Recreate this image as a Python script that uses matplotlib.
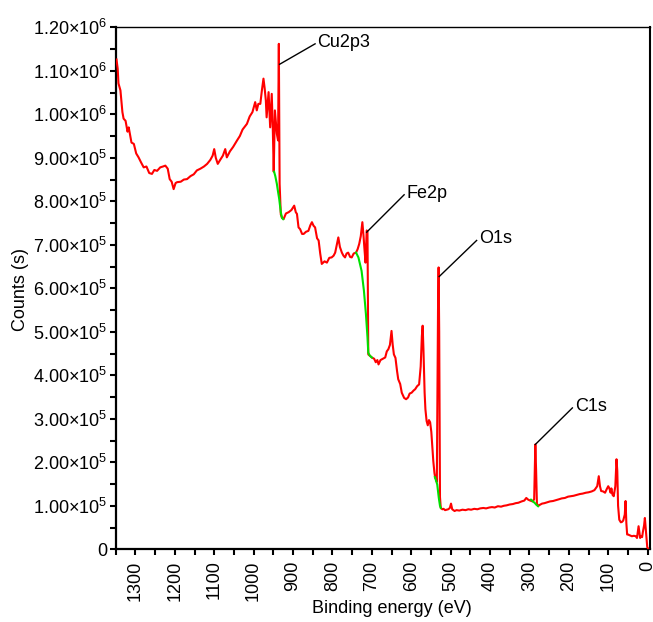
import numpy as np
import matplotlib
matplotlib.use("Agg")
import matplotlib.pyplot as plt
from matplotlib.ticker import MultipleLocator, FuncFormatter

plt.rcParams['font.family'] = ['Liberation Sans', 'DejaVu Sans']
plt.rcParams['mathtext.fontset'] = 'custom'
plt.rcParams['mathtext.rm'] = 'Liberation Sans'

# survey spectrum (binding energy in eV, counts in units of 1e5)
be = [1348, 1345, 1343, 1338, 1333, 1330, 1325, 1320, 1317, 1310, 1304, 1298, 1292, 1286,
      1279, 1272, 1265, 1258, 1252, 1245, 1237, 1230, 1224, 1218, 1213, 1208, 1203, 1198,
      1194, 1185, 1177, 1169, 1160, 1152, 1144, 1135, 1126, 1118, 1110, 1104, 1100, 1096,
      1091, 1085, 1078, 1072, 1068, 1060, 1052, 1042, 1035, 1028, 1017, 1010, 1003, 996,
      992, 988, 983, 979, 975, 972, 969, 967, 962, 958, 954, 951, 949, 946, 941, 938, 936,
      934, 931, 928, 924, 918, 911, 904, 897, 893, 890, 886, 882, 877, 873, 867, 861, 856,
      852, 848, 844, 839, 835, 831, 827, 820, 814, 808, 802, 797, 793, 789, 785, 781, 776,
      772, 768, 764, 760, 755, 751, 746, 740, 736, 732, 728, 724, 721, 719, 716, 713, 711,
      709, 705, 700, 694, 690, 686, 683, 678, 672, 666, 662, 658, 654, 650, 647, 644, 640,
      636, 633, 628, 624, 618, 613, 608, 604, 599, 594, 590, 585, 580, 576, 573, 571, 569,
      566, 564, 561, 558, 555, 552, 549, 546, 544, 541, 539, 537, 535, 532, 530.5, 529, 527,
      525, 521, 518, 514, 510, 506, 502, 499, 496, 490, 485, 478, 470, 462, 455, 448, 440,
      432, 425, 417, 410, 402, 395, 388, 380, 372, 365, 358, 350, 342, 335, 328, 320, 313,
      308, 303, 298, 292, 288, 285, 283, 281, 278, 274, 268, 262, 255, 248, 240, 232, 225,
      218, 210, 202, 195, 188, 180, 172, 165, 157, 150, 142, 135, 128, 124, 121, 118, 113,
      108, 104, 100, 97, 94, 92, 89, 86, 82, 79, 77, 75, 72, 68, 65, 62, 58, 56, 54, 52, 50,
      45, 40, 35, 30, 27, 25, 23, 21, 19, 17, 14, 12, 9, 7, 5, 3, 1, -1]
counts = [11.26, 11.05, 10.71, 10.55, 10.05, 9.90, 9.85, 9.60, 9.70, 9.35, 9.32, 9.10, 9.01, 8.90,
          8.78, 8.80, 8.65, 8.63, 8.72, 8.70, 8.78, 8.80, 8.82, 8.75, 8.51, 8.45, 8.28, 8.42,
          8.44, 8.45, 8.50, 8.51, 8.58, 8.62, 8.71, 8.75, 8.80, 8.86, 8.95, 9.05, 9.20, 9.00,
          8.86, 8.95, 9.05, 9.20, 9.01, 9.15, 9.25, 9.40, 9.50, 9.65, 9.78, 9.95, 10.05, 10.28,
          10.09, 10.24, 10.24, 10.55, 10.82, 10.60, 10.32, 9.93, 10.51, 9.70, 10.47, 9.55, 8.68, 10.09, 9.55, 9.40, 11.62,
          8.40, 7.70, 7.62, 7.59, 7.72, 7.75, 7.80, 7.90, 7.75, 7.71, 7.40, 7.36, 7.25, 7.25, 7.30, 7.32, 7.45,
          7.52, 7.44, 7.40, 7.15, 7.10, 6.80, 6.56, 6.62, 6.59, 6.70, 6.71, 6.75, 6.82, 7.00, 7.17, 6.95, 6.82,
          6.75, 6.71, 6.80, 6.82, 6.72, 6.71, 6.80, 6.82, 6.90, 7.02, 7.20, 7.52, 7.20, 6.94, 6.59, 7.33, 7.30,
          4.48, 4.45, 4.41, 4.38, 4.30, 4.35, 4.25, 4.35, 4.38, 4.41, 4.55, 4.60, 4.70, 5.02, 4.70, 4.48, 4.40,
          4.10, 3.91, 3.80, 3.60, 3.48, 3.45, 3.49, 3.58, 3.60, 3.65, 3.68, 3.75, 3.79, 4.20, 4.90, 5.14, 4.60,
          3.60, 3.22, 2.95, 2.85, 2.97, 2.92, 2.70, 2.30, 2.03, 1.75, 1.64, 1.62, 1.55, 5.50, 6.48, 5.00, 1.20,
          0.95, 0.92, 0.93, 0.90, 0.91, 0.92, 0.95, 1.05, 0.92, 0.88, 0.90, 0.89, 0.91, 0.90, 0.92, 0.91, 0.93,
          0.92, 0.94, 0.95, 0.94, 0.96, 0.97, 0.96, 0.99, 0.98, 1.00, 1.01, 1.03, 1.04, 1.06, 1.07, 1.10, 1.12,
          1.18, 1.14, 1.12, 1.10, 1.15, 2.41, 1.80, 1.05, 1.00, 1.02, 1.05, 1.06, 1.08, 1.10, 1.11, 1.13, 1.15,
          1.17, 1.18, 1.21, 1.22, 1.23, 1.25, 1.27, 1.28, 1.30, 1.31, 1.33, 1.36, 1.45, 1.68, 1.45, 1.34, 1.33,
          1.30, 1.38, 1.45, 1.40, 1.30, 1.40, 1.25, 1.22, 1.45, 2.07, 1.80, 1.00, 0.68, 0.62, 0.63, 0.66, 0.80, 1.11, 0.60, 0.34, 0.34,
          0.32, 0.30, 0.31, 0.30, 0.26, 0.40, 0.53, 0.40, 0.26, 0.30, 0.28, 0.40, 0.55, 0.72, 0.50, 0.25, 0.05, 0.02]

# background segments (green)
bg_cu_be = [948, 945, 941, 938, 935, 931, 928, 925]
bg_cu = [8.68, 8.58, 8.40, 8.22, 8.05, 7.75, 7.62, 7.59]
bg_fe_be = [740, 734, 726, 720, 715, 711, 709, 705, 700]
bg_fe = [6.82, 6.71, 6.40, 5.94, 5.41, 4.87, 4.52, 4.45, 4.41]
bg_o_be = [540, 537, 534, 530, 527, 525]
bg_o = [1.66, 1.58, 1.49, 1.18, 1.00, 0.95]
bg_c_be = [296, 291, 287, 282, 278]
bg_c = [1.14, 1.10, 1.07, 1.02, 0.99]

# peak labels: text, peak point, line end
labels = ['Cu2p3', 'Fe2p', 'O1s', 'C1s']
peak_be = [934, 713, 529, 285]
peak_cnt = [11.15, 7.29, 6.27, 2.41]
end_be = [844, 618, 434, 191]
end_cnt = [11.62, 8.15, 7.10, 3.25]

fig = plt.figure(figsize=(6.53, 6.22), dpi=100)
ax = fig.add_axes([0.1772, 0.1169, 0.8182, 0.8392])

ax.plot(be, np.array(counts) * 1e5, color='#ff0000', lw=1.5, zorder=3)
for xb, yb in [(bg_cu_be, bg_cu), (bg_fe_be, bg_fe), (bg_o_be, bg_o), (bg_c_be, bg_c)]:
    ax.plot(xb, np.array(yb) * 1e5, color='#00e000', lw=1.5, zorder=4)

for i in range(len(labels)):
    ax.plot([peak_be[i], end_be[i]], [peak_cnt[i] * 1e5, end_cnt[i] * 1e5], color='black', lw=1.0, zorder=5)
    ax.text(end_be[i] - 6, end_cnt[i] * 1e5 + 4000, labels[i], fontsize=13, ha='left', va='center')

ax.set_xlim(1350, -6)
ax.set_ylim(0, 1.2e6)
ax.xaxis.set_major_locator(MultipleLocator(100))
ax.xaxis.set_minor_locator(MultipleLocator(50))
ax.yaxis.set_major_locator(MultipleLocator(1e5))
ax.yaxis.set_minor_locator(MultipleLocator(5e4))


def fmt(v, pos):
    if v <= 0:
        return '0'
    e = int(np.floor(np.log10(v) + 1e-9))
    m = v / 10 ** e
    return f'$\\mathregular{{{m:.2f}×10^{{{e}}}}}$'


ax.yaxis.set_major_formatter(FuncFormatter(fmt))
ax.tick_params(which='both', direction='out', length=4, width=1.5, labelsize=13)
ax.tick_params(axis='y', pad=2)
ax.tick_params(axis='x', pad=4, labelrotation=90)

ax.spines['left'].set_linewidth(1.6)
ax.spines['bottom'].set_linewidth(1.6)
ax.spines['top'].set_linewidth(1.0)
ax.spines['right'].set_linewidth(1.5)

fig.text(0.031, 0.534, 'Counts (s)', rotation=90, fontsize=13, ha='center', va='center')
fig.text(0.600, 0.0225, 'Binding energy (eV)', fontsize=13, ha='center', va='center')

fig.savefig('out.png', dpi=100)
